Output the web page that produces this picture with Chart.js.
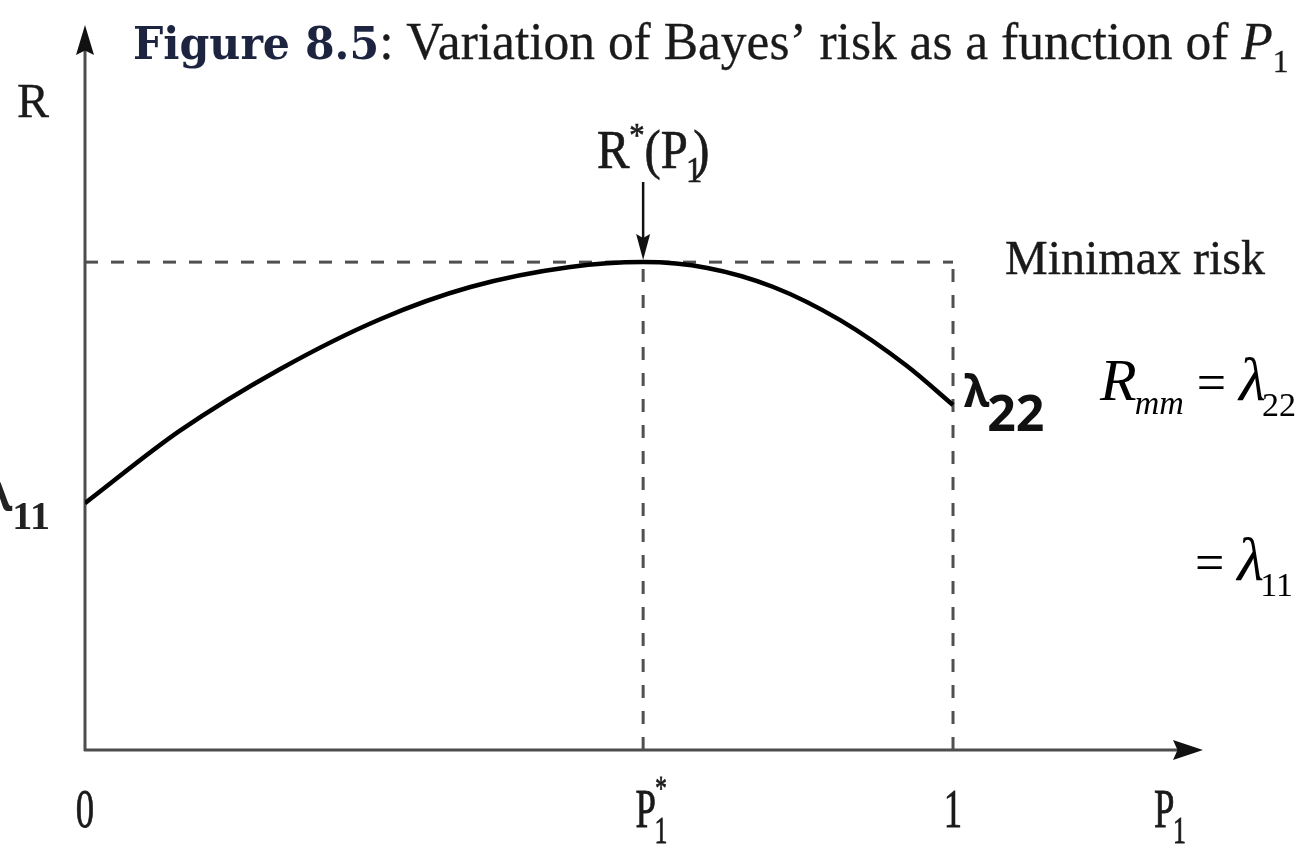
<!DOCTYPE html>
<html>
<head>
<meta charset="utf-8">
<script src="https://cdn.jsdelivr.net/npm/chart.js@4"></script>
<style>
  html, body { margin: 0; padding: 0; background: #ffffff; }
  #wrap { width: 1305px; height: 848px; position: relative; }
</style>
</head>
<body>
<div id="wrap"><canvas id="c" width="1305" height="848"></canvas></div>
<script>
// Bayes risk R*(P1) sampled along the prior probability P1
const priorP1   = [0, 0.109, 0.225, 0.340, 0.444, 0.559, 0.643, 0.717, 0.793, 0.870, 0.947, 1.0];
const bayesRisk = [0.506, 0.654, 0.781, 0.883, 0.949, 0.990, 1.0, 0.988, 0.949, 0.881, 0.787, 0.707];

// Least-favourable prior and the minimax risk level
const pStar = 0.643;
const minimaxRisk = 1.0;

// Tick labels on the P1 axis (base text, subscript, superscript)
const tickValues = [0, pStar, 1];
const tickBase   = ['0', 'P', '1'];
const tickSub    = ['', '1', ''];
const tickSup    = ['', '*', ''];

// Axis extents (arrow tips)
const xAxisMax = 1.288;
const yAxisMax = 1.486;

const SERIF = '"Liberation Serif", "Times New Roman", serif';

function font(size, style) {
  return (style ? style + ' ' : '') + size + 'px ' + SERIF;
}

// Draw a run of text pieces one after another on a common baseline.
// Each piece: {t, f (font), dy (baseline shift), dx (extra gap before)}
function drawRuns(ctx, x, y, runs, align, sx, color, strokeW) {
  ctx.save();
  ctx.fillStyle = color || '#111';
  ctx.strokeStyle = color || '#111';
  ctx.lineWidth = strokeW || 0;
  ctx.textBaseline = 'alphabetic';
  ctx.textAlign = 'left';
  let total = 0;
  runs.forEach(r => { ctx.font = r.f; total += (r.dx || 0) + ctx.measureText(r.t).width; });
  const scale = sx || 1;
  let start = x;
  if (align === 'center') start = x - total * scale / 2;
  else if (align === 'right') start = x - total * scale;
  ctx.translate(start, y);
  ctx.scale(scale, 1);
  let cx = 0;
  runs.forEach(r => {
    ctx.font = r.f;
    cx += (r.dx || 0);
    ctx.fillText(r.t, cx, r.dy || 0);
    if (strokeW) ctx.strokeText(r.t, cx, r.dy || 0);
    cx += ctx.measureText(r.t).width;
  });
  ctx.restore();
  return total * scale;
}

function arrowHead(ctx, tipX, tipY, dirX, dirY, len, half) {
  const bx = tipX - dirX * len, by = tipY - dirY * len;
  const nx = -dirY, ny = dirX;
  ctx.beginPath();
  ctx.moveTo(tipX, tipY);
  ctx.lineTo(bx + nx * half, by + ny * half);
  ctx.lineTo(bx + dirX * len * 0.15, by + dirY * len * 0.15);
  ctx.lineTo(bx - nx * half, by - ny * half);
  ctx.closePath();
  ctx.fill();
}

// Axes with arrowheads, drawn under the datasets; labels drawn on top
const axesPlugin = {
  id: 'axesArrows',
  beforeDatasetsDraw(chart) {
    const ctx = chart.ctx;
    const xs = chart.scales.x, ys = chart.scales.y;
    const x0 = xs.getPixelForValue(0), y0 = ys.getPixelForValue(0);
    const xEnd = xs.getPixelForValue(xAxisMax), yEnd = ys.getPixelForValue(yAxisMax);
    ctx.save();
    ctx.strokeStyle = '#4d4d4d';
    ctx.fillStyle = '#111';
    ctx.lineWidth = 3;
    ctx.lineCap = 'butt';
    ctx.beginPath();
    ctx.moveTo(x0, y0 + 1);
    ctx.lineTo(x0, yEnd + 20);
    ctx.moveTo(x0 - 1, y0);
    ctx.lineTo(xEnd - 20, y0);
    ctx.stroke();
    arrowHead(ctx, x0, yEnd, 0, -1, 30, 9);
    arrowHead(ctx, xEnd, y0, 1, 0, 30, 10);
    ctx.restore();
  },
  afterDatasetsDraw(chart) {
    const ctx = chart.ctx;
    const xs = chart.scales.x, ys = chart.scales.y;
    const y0 = ys.getPixelForValue(0);

    // Pointer to the peak R*(P1)
    const px = xs.getPixelForValue(pStar);
    const py = ys.getPixelForValue(minimaxRisk);
    ctx.save();
    ctx.strokeStyle = '#111';
    ctx.fillStyle = '#111';
    ctx.lineWidth = 2.5;
    ctx.beginPath();
    ctx.moveTo(px, 182);
    ctx.lineTo(px, py - 20);
    ctx.stroke();
    arrowHead(ctx, px, py - 2, 0, 1, 26, 7);
    ctx.restore();

    // Tick labels on the P1 axis
    tickValues.forEach((v, i) => {
      const tx = xs.getPixelForValue(v);
      const runs = [{ t: tickBase[i], f: font(54) }];
      if (tickSub[i]) runs.push({ t: tickSub[i], f: font(38), dy: 16, dx: -2 });
      if (tickSup[i]) runs.push({ t: tickSup[i], f: font(34), dy: -28, dx: -18 });
      drawRuns(ctx, tx + (tickSub[i] ? 8 : 0), y0 + 77, runs, 'center', 0.68, '#1a1a1a', 0.8);
    });
    // Axis names
    drawRuns(ctx, 1170, y0 + 77, [{ t: 'P', f: font(54) }, { t: '1', f: font(38), dy: 16, dx: -2 }], 'center', 0.68, '#1a1a1a', 0.8);
    drawRuns(ctx, 33, 117, [{ t: 'R', f: font(48) }], 'center', 1, '#1a1a1a', 0.3);

    // R*(P1) label above the pointer
    drawRuns(ctx, px + 10, 168, [
      { t: 'R', f: font(54) },
      { t: '*', f: font(34), dy: -22 },
      { t: '(P', f: font(54) },
      { t: '1', f: font(36), dy: 14, dx: -2 },
      { t: ')', f: font(54), dx: -10 }
    ], 'center', 0.9, '#1a1a1a', 0.7);

    // Minimax risk caption
    drawRuns(ctx, 1005, 274, [{ t: 'Minimax risk', f: font(48) }], 'left', 1.0, '#1a1a1a', 0.4);

    // Endpoint values
    const y1 = ys.getPixelForValue(bayesRisk[bayesRisk.length - 1]);
    drawRuns(ctx, 964, y1 + 2, [
      { t: 'λ', f: 'bold 44px "Noto Sans", sans-serif' },
      { t: '22', f: 'bold 50px "Open Sans", sans-serif', dy: 24, dx: -2 }
    ], 'left', 1, '#111');
    const yl = ys.getPixelForValue(bayesRisk[0]);
    drawRuns(ctx, -13, yl + 8, [
      { t: 'λ', f: 'bold 44px "Noto Sans", sans-serif' },
      { t: '11', f: 'bold 40px "Liberation Serif", serif', dy: 18 }
    ], 'left', 1, '#222');

    // Minimax condition written beside the plot
    drawRuns(ctx, 1100, 400, [
      { t: 'R', f: font(60, 'italic') },
      { t: 'mm', f: font(34, 'italic'), dy: 14, dx: -2 },
      { t: ' = ', f: font(52) },
      { t: 'λ', f: font(62, 'italic') },
      { t: '22', f: font(34), dy: 16, dx: -4 }
    ], 'left', 1, '#000');
    drawRuns(ctx, 1195, 580, [
      { t: '= ', f: font(52) },
      { t: 'λ', f: font(62, 'italic') },
      { t: '11', f: font(34), dy: 16, dx: -4 }
    ], 'left', 1, '#000');

    // Figure caption
    let cx = 133;
    cx += drawRuns(ctx, cx, 59, [{ t: 'Figure 8.5', f: 'bold 44px "DejaVu Serif", serif' }], 'left', 0.97, '#1c2440');
    drawRuns(ctx, cx, 59, [
      { t: ': Variation of Bayes\u2019 risk as a function of ', f: font(52) },
      { t: 'P', f: font(52, 'italic') },
      { t: '1', f: font(32), dy: 13 }
    ], 'left', 0.99, '#1a1a1a', 0.3);
  }
};

const dashStyle = { borderColor: '#505050', borderWidth: 3, borderDash: [13, 13], pointRadius: 0, fill: false, tension: 0 };

new Chart(document.getElementById('c'), {
  type: 'line',
  data: {
    datasets: [
      {
        label: 'Bayes risk',
        data: priorP1.map((p, i) => ({ x: p, y: bayesRisk[i] })),
        borderColor: '#000000',
        borderWidth: 4.5,
        pointRadius: 0,
        cubicInterpolationMode: 'monotone',
        fill: false
      },
      Object.assign({ label: 'Minimax risk', data: [{ x: 0, y: minimaxRisk }, { x: 1, y: minimaxRisk }] }, dashStyle),
      Object.assign({ label: 'P1*', data: [{ x: pStar, y: 0 }, { x: pStar, y: minimaxRisk }] }, dashStyle),
      Object.assign({ label: 'P1 = 1', data: [{ x: 1, y: 0 }, { x: 1, y: minimaxRisk }] }, dashStyle)
    ]
  },
  options: {
    responsive: false,
    animation: false,
    layout: { padding: { left: 85, right: 102, top: 25, bottom: 98 } },
    plugins: { legend: { display: false }, tooltip: { enabled: false } },
    scales: {
      x: { type: 'linear', min: 0, max: xAxisMax, display: false },
      y: { type: 'linear', min: 0, max: yAxisMax, display: false }
    }
  },
  plugins: [axesPlugin]
});
</script>
</body>
</html>
